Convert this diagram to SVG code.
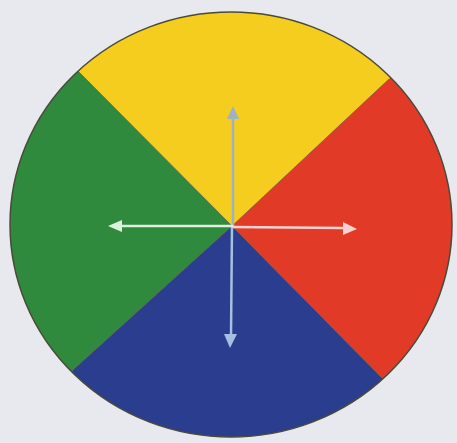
<svg xmlns="http://www.w3.org/2000/svg" width="457" height="443" viewBox="0 0 457 443">
  <style>
    .seam { stroke: #5a4a2a; stroke-width: 1; stroke-opacity: 0.55; fill: none; }
    .arr { stroke-width: 2.5; fill: none; stroke-linecap: butt; }
  </style>
  <defs>
    <clipPath id="disc">
      <ellipse cx="231" cy="224.5" rx="221" ry="212.5"/>
    </clipPath>
  </defs>
  <rect x="0" y="0" width="457" height="443" fill="#e7e9ee"/>
  <g id="wheel" clip-path="url(#disc)">
    <g id="yellow"><polygon points="232,226 -78,-86 546,-68" fill="#f4cd1e"/></g>
    <g id="green"><polygon points="232,226 -78,-86 -86,514" fill="#2f8a3d"/></g>
    <g id="blue"><polygon points="232,226 -86,514 536,534" fill="#2a3d8e"/></g>
    <g id="red"><polygon points="232,226 546,-68 536,534" fill="#e13b28"/></g>
    <path class="seam" d="M232,226 L77,70 M232,226 L389,79 M232,226 L73,370 M232,226 L384,380"/>
  </g>
  <ellipse cx="231" cy="224.5" rx="221" ry="212.5" fill="none" stroke="#4a4a3a" stroke-width="1.5"/>
  <g id="connectors">
    <line class="arr" x1="233" y1="226" x2="233" y2="118" stroke="#9fb2c4"/>
    <polygon points="233,106 227,119 239,119" fill="#9fb2c4"/>
    <line class="arr" x1="232" y1="226" x2="231" y2="336" stroke="#a7bfe3"/>
    <polygon points="230,348 224,334 237,334" fill="#a7bfe3"/>
    <line class="arr" x1="233" y1="226" x2="121" y2="226" stroke="#dcf0dc"/>
    <polygon points="108,226 122,220 122,232" fill="#dcf0dc"/>
    <line class="arr" x1="233" y1="227" x2="344" y2="228" stroke="#f6d3d0"/>
    <polygon points="357,229 343,222 343,235" fill="#f6d3d0"/>
  </g>
</svg>
